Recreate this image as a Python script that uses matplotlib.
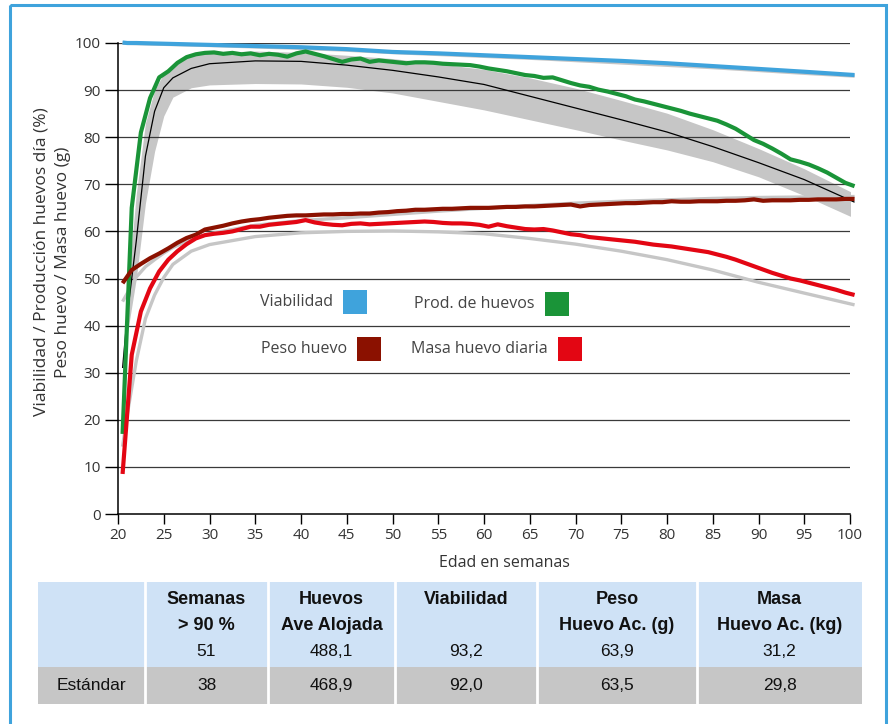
import numpy as np
import matplotlib.pyplot as plt
from matplotlib.patches import Rectangle

# Datos semanales (lineas medidas)
semanas = np.arange(20.5, 101, 1.0)

prod_huevos = [17, 65, 81, 88.3, 92.7, 94.0, 95.8, 97.0, 97.6, 97.9,
               98.0, 97.7, 97.9, 97.6, 97.8, 97.4, 97.7, 97.5, 97.1, 97.8,
               98.2, 97.7, 97.2, 96.6, 96.0, 96.5, 96.7, 96.0, 96.3, 96.1,
               95.9, 95.7, 95.9, 95.9, 95.8, 95.6, 95.5, 95.4, 95.3, 95.0,
               94.6, 94.3, 94.0, 93.6, 93.2, 93.0, 92.6, 92.7, 92.1, 91.5,
               91.0, 90.7, 90.1, 89.7, 89.2, 88.7, 88.0, 87.6, 87.1, 86.6,
               86.1, 85.6, 85.0, 84.5, 84.0, 83.5, 82.7, 81.8, 80.6, 79.4,
               78.6, 77.6, 76.5, 75.3, 74.8, 74.2, 73.4, 72.5, 71.4, 70.3,
               69.6]

masa_huevo = [8.5, 33.8, 43.0, 47.9, 51.5, 54.0, 55.8, 57.3, 58.5, 59.2,
              59.5, 59.7, 60.0, 60.5, 61.0, 61.0, 61.4, 61.6, 61.8, 62.0,
              62.4, 61.9, 61.6, 61.4, 61.3, 61.6, 61.7, 61.5, 61.6, 61.7,
              61.8, 61.9, 62.0, 62.1, 62.0, 61.8, 61.7, 61.7, 61.6, 61.4,
              61.0, 61.5, 61.1, 60.8, 60.5, 60.4, 60.5, 60.2, 59.8, 59.4,
              59.2, 58.8, 58.6, 58.4, 58.2, 58.0, 57.8, 57.5, 57.2, 57.0,
              56.8, 56.5, 56.2, 55.9, 55.6, 55.1, 54.6, 54.0, 53.3, 52.6,
              51.9, 51.2, 50.6, 50.0, 49.6, 49.1, 48.6, 48.1, 47.6, 47.0,
              46.5]

peso_huevo = [49.0, 51.8, 53.1, 54.3, 55.3, 56.4, 57.6, 58.6, 59.3, 60.4,
              60.8, 61.2, 61.7, 62.1, 62.4, 62.6, 62.9, 63.1, 63.3, 63.4,
              63.4, 63.5, 63.6, 63.6, 63.7, 63.7, 63.8, 63.8, 64.0, 64.1,
              64.3, 64.4, 64.6, 64.6, 64.7, 64.8, 64.8, 64.9, 65.0, 65.0,
              65.0, 65.1, 65.2, 65.2, 65.3, 65.3, 65.4, 65.5, 65.6, 65.7,
              65.3, 65.6, 65.7, 65.8, 65.9, 66.0, 66.0, 66.1, 66.2, 66.2,
              66.4, 66.3, 66.3, 66.4, 66.4, 66.4, 66.5, 66.5, 66.6, 66.8,
              66.5, 66.6, 66.6, 66.6, 66.7, 66.7, 66.8, 66.8, 66.8, 66.9,
              66.9]

# Estandar y viabilidad (curvas suaves)
semanas_std = [20.5, 21, 22, 23, 24, 25, 26, 28, 30, 35, 40, 45, 50, 55,
               60, 65, 70, 75, 80, 85, 90, 95, 100.5]
viabilidad = [100.1, 100.0, 100.0, 99.95, 99.9, 99.85, 99.8, 99.7, 99.6,
              99.35, 99.1, 98.7, 98.1, 97.8, 97.4, 97.0, 96.6, 96.2, 95.7,
              95.1, 94.5, 93.9, 93.2]
viab_std = [100.0, 99.95, 99.9, 99.85, 99.8, 99.75, 99.7, 99.6, 99.5,
            99.2, 98.9, 98.5, 98.0, 97.6, 97.2, 96.8, 96.3, 95.8, 95.3,
            94.8, 94.2, 93.6, 93.0]
prod_std = [31, 42, 58, 76, 85.5, 90.5, 92.6, 94.6, 95.6, 96.2, 96.1, 95.3,
            94.2, 92.8, 91.2, 88.7, 86.2, 83.7, 81.1, 78.0, 74.6, 71.0, 66.2]
prod_std_max = [31, 47, 68, 83, 90, 93.5, 95.5, 97.3, 98.0, 98.3, 98.0, 97.4,
                96.7, 95.6, 94.4, 92.6, 90.4, 87.8, 85.1, 81.6, 77.6, 73.3, 68.0]
prod_std_min = [30, 38, 50, 66, 77, 84.5, 88.5, 90.5, 91.1, 91.4, 91.3, 90.6,
                89.4, 87.6, 85.8, 83.7, 81.6, 79.4, 77.3, 74.8, 71.6, 67.6, 62.8]
peso_std = [45.1, 46.8, 50.3, 52.5, 54.0, 55.4, 56.6, 58.3, 59.5, 61.3, 62.3,
            62.9, 63.6, 64.3, 64.9, 65.5, 66.0, 66.4, 66.7, 67.0, 67.2, 67.3, 67.4]
masa_std = [14.3, 21, 32.5, 41.5, 46.5, 50.2, 53.0, 55.8, 57.2, 58.9, 59.7,
            60.0, 60.1, 59.9, 59.5, 58.5, 57.3, 55.8, 54.0, 51.8, 49.2, 46.9, 44.4]

# Tabla
columnas = ["", "Semanas\n> 90 %", "Huevos\nAve Alojada", "Viabilidad",
            "Peso\nHuevo Ac. (g)", "Masa\nHuevo Ac. (kg)"]
fila_resultado = ["", "51", "488,1", "93,2", "63,9", "31,2"]
fila_estandar = ["Estándar", "38", "468,9", "92,0", "63,5", "29,8"]

azul = '#3fa3dc'
verde = '#1a9438'
marron = '#8b1100'
rojo = '#e30613'
gris = '#c6c6c6'
texto = '#333333'

plt.rcParams['font.family'] = ['Open Sans', 'DejaVu Sans']

W, H = 891, 724
fig = plt.figure(figsize=(W / 100, H / 100), dpi=100)
ax = fig.add_axes([118 / W, 1 - 514 / H, (850 - 118) / W, (514 - 43) / H])

ax.fill_between(semanas_std, prod_std_min, prod_std_max, color=gris, lw=0, zorder=1)
for y in range(10, 101, 10):
    ax.axhline(y, color='#3a3a3a', lw=0.9, zorder=2)

kw = dict(solid_capstyle='butt', clip_on=False)
ax.plot(semanas_std, viab_std, color=gris, lw=2.6, zorder=3, **kw)
ax.plot(semanas_std, peso_std, color=gris, lw=2.4, zorder=3, **kw)
ax.plot(semanas_std, masa_std, color=gris, lw=2.4, zorder=3, **kw)
ax.plot(semanas_std, prod_std, color='black', lw=0.9, zorder=4, **kw)

ax.plot(semanas_std, viabilidad, color=azul, lw=3, zorder=5, **kw)
ax.plot(semanas, prod_huevos, color=verde, lw=3, zorder=5, **kw)
ax.plot(semanas, peso_huevo, color=marron, lw=3, zorder=5, **kw)
ax.plot(semanas, masa_huevo, color=rojo, lw=3, zorder=5, **kw)

ax.set_xlim(20, 100)
ax.set_ylim(0, 100)
ax.set_xticks(range(20, 101, 5))
ax.set_yticks(range(0, 101, 10))
for s in ['top', 'right']:
    ax.spines[s].set_visible(False)
for s in ['left', 'bottom']:
    ax.spines[s].set_linewidth(1.1)
ax.tick_params(axis='y', length=9.5, width=1, pad=3, labelsize=11, labelcolor=texto)
ax.tick_params(axis='x', length=7, width=1, pad=3, labelsize=11, labelcolor=texto)
ax.set_facecolor('none')

# capa para textos y tabla en pixeles
ov = fig.add_axes([0, 0, 1, 1], zorder=-1)
ov.set_xlim(0, W)
ov.set_ylim(H, 0)
ov.axis('off')

ov.add_patch(Rectangle((10, 4.5), 876, 740, fill=False, ec=azul, lw=2.2))

ov.text(52, 262, "Viabilidad / Producción huevos día (%)\nPeso huevo / Masa huevo (g)",
        rotation=90, ha='center', va='center', fontsize=12.5, color=texto,
        linespacing=1.45)
ov.text(504, 563, "Edad en semanas", ha='center', va='center', fontsize=11.5,
        color=texto)

# leyenda
leyenda = [("Viabilidad", azul, 333, 302), ("Prod. de huevos", verde, 535, 304),
           ("Peso huevo", marron, 347, 349), ("Masa huevo diaria", rojo, 548, 349)]
for nombre, color, xt, yt in leyenda:
    ov.text(xt, yt, nombre, ha='right', va='center', fontsize=11.5, color='#444444')
    ov.add_patch(Rectangle((xt + 10, yt - 12), 24, 24, color=color, lw=0))

# tabla
bordes = [38, 145, 268, 395, 537, 697, 862]
for i in range(6):
    x0, x1 = bordes[i], bordes[i + 1]
    xc = (x0 + x1) / 2
    ov.add_patch(Rectangle((x0, 582), x1 - x0, 85, color='#cfe2f6', lw=0))
    ov.add_patch(Rectangle((x0, 667), x1 - x0, 37, color=gris, lw=0))
    for k, linea in enumerate(columnas[i].split("\n")):
        ov.text(xc, 600 + 25.5 * k, linea, ha='center', va='center', fontsize=13,
                fontweight='bold', color='#111111', family='Liberation Sans')
    ov.text(xc, 652, fila_resultado[i], ha='center', va='center', fontsize=12.5,
            color='#111111', family='Liberation Sans')
    ov.text(xc, 686, fila_estandar[i], ha='center', va='center', fontsize=12.5,
            color='#111111', family='Liberation Sans')
for xb in bordes[1:-1]:
    ov.plot([xb, xb], [582, 704], color='white', lw=2)

fig.savefig('out.png', dpi=100)
